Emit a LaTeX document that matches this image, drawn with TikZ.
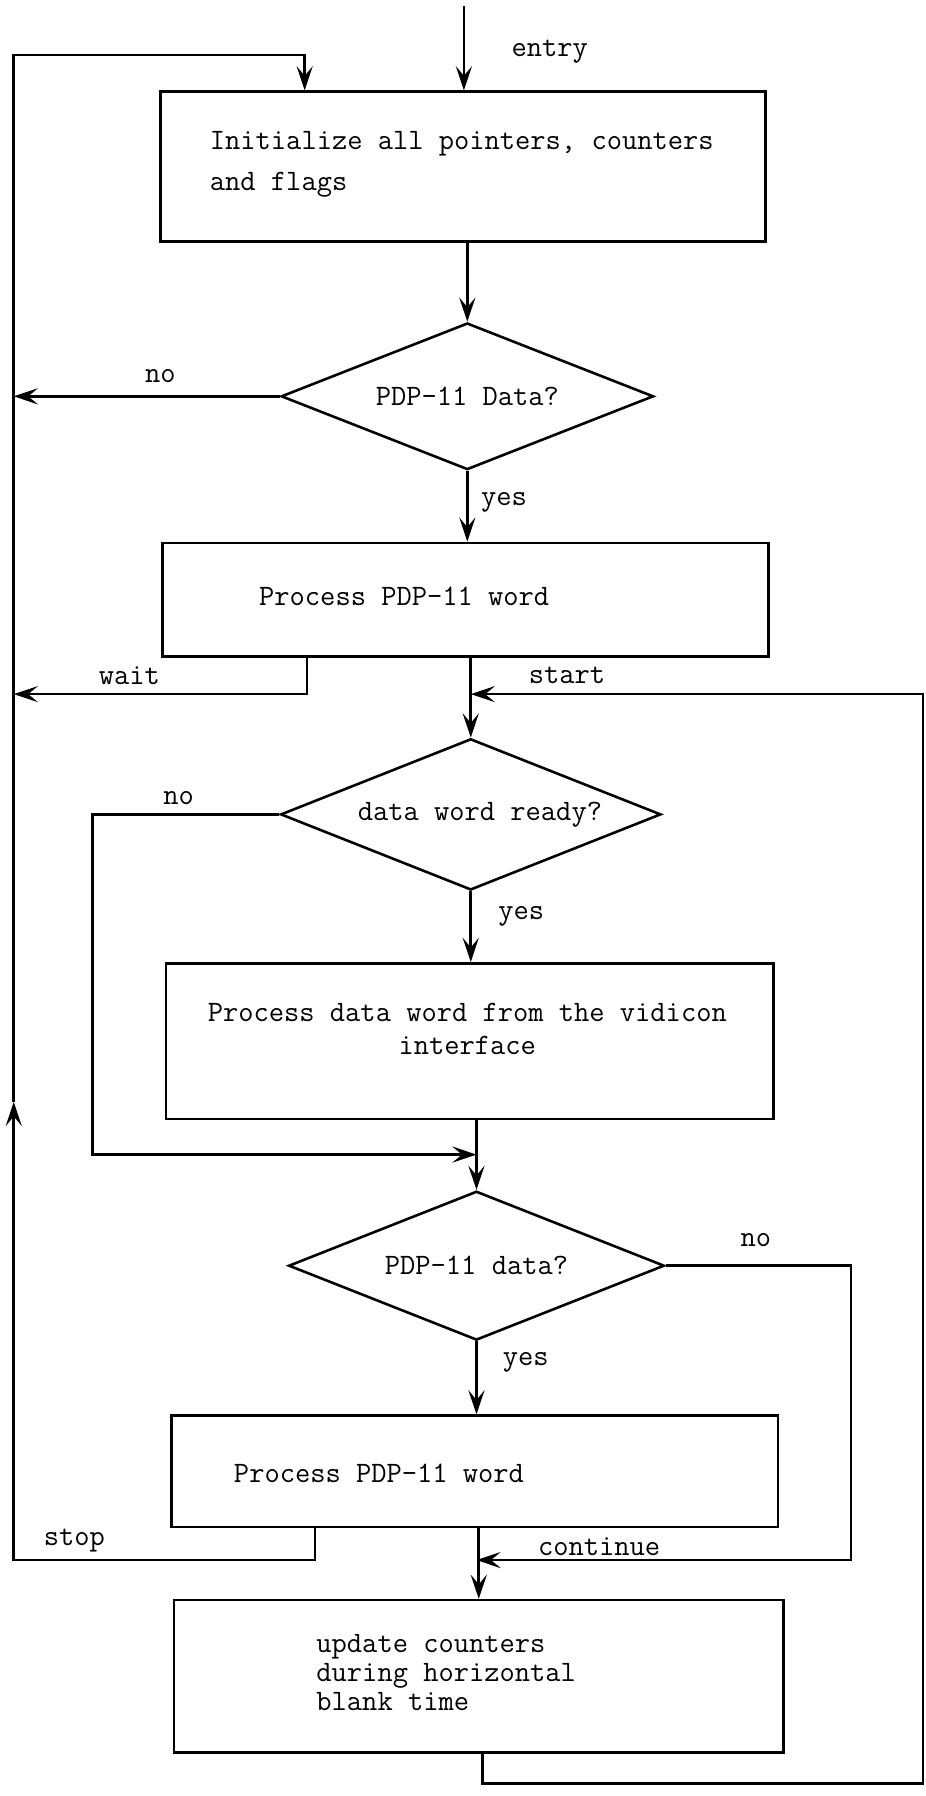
\documentclass[tikz,border=0pt]{standalone}
\usetikzlibrary{shapes.geometric,arrows.meta}

\tikzset{
	procbox/.style={draw,rectangle,line width=1.6pt,inner sep=0pt},
	testbox/.style={draw,diamond,aspect=2.5,line width=1.6pt,inner sep=0pt,font=\fontsize{18.4}{22}\ttfamily},
	boxtext/.style={inner sep=0pt,font=\fontsize{18.4}{#1}\ttfamily},
	boxtext/.default=22,
	flowline/.style={line width=1.6pt},
	flowarrow/.style={flowline,-{Stealth[length=15pt,width=10pt,inset=6pt]}},
}

\begin{document}
\begin{tikzpicture}[x=0.025cm,y=-0.025cm]
	\useasboundingbox (0,0) rectangle (808,1568); % Keeps the page size...

		% boxes and tests
		\node[procbox,minimum width=13.2cm,minimum height=3.275cm] (init) at (404,145.5) {};
		\node[testbox,minimum width=8.125cm,minimum height=3.2cm] (pdpA) at (408,346) {PDP-11 Data?};
		\node[procbox,minimum width=13.225cm,minimum height=2.475cm] (wordA) at (406.5,523.5) {};
		\node[testbox,minimum width=8.3cm,minimum height=3.3cm] (ready) at (411,711) {\hspace{0.4cm}data word ready?};
		\node[procbox,minimum width=13.25cm,minimum height=3.4cm] (vidicon) at (410,909) {};
		\node[testbox,minimum width=8.2cm,minimum height=3.25cm] (pdpB) at (416,1105) {PDP-11 data?};
		\node[procbox,minimum width=13.225cm,minimum height=2.425cm] (wordB) at (414.5,1284.5) {};
		\node[procbox,minimum width=13.3cm,minimum height=3.325cm] (update) at (418,1463.5) {};

		% box texts
		\node[boxtext=25,anchor=west,align=left] (initTxt) at (183,143.5) {Initialize all pointers, counters\\and flags};
		\node[boxtext,anchor=west] (wordATxt) at (226,521) {Process PDP-11 word};
		\node[boxtext=20.6,align=center] (vidiconTxt) at (408,898) {Process data word from the vidicon\\interface};
		\node[boxtext,anchor=west] (wordBTxt) at (204,1286) {Process PDP-11 word};
		\node[boxtext=18,anchor=west,align=left] (updateTxt) at (276,1460) {update counters\\during horizontal\\blank time};

		% free ends of the lines
		\coordinate (entry)   at (405,5);
		\coordinate (loopTop) at (12,48);
		\coordinate (loopIn)  at (266,48);
		\coordinate (upArr)   at (12,962);
		\coordinate (wait)    at (268,606);
		\coordinate (backR)   at (806,606);
		\coordinate (skip)    at (81,1008);
		\coordinate (noR)     at (743,1362);
		\coordinate (stop)    at (275,1362);
		\coordinate (back)    at (421,1557);

		% main flow
		\draw[flowarrow] (entry) -- (entry |- init.north);% entry
		\draw[flowarrow] (init.south -| pdpA.north) -- (pdpA.north);
		\draw[flowarrow] (pdpA.south) -- (pdpA.south |- wordA.north);
		\draw[flowarrow] (wordA.south -| ready.north) -- (ready.north);
		\draw[flowarrow] (ready.south) -- (ready.south |- vidicon.north);
		\draw[flowarrow] (vidicon.south -| pdpB.north) -- (pdpB.north);
		\draw[flowarrow] (pdpB.south) -- (pdpB.south |- wordB.north);
		\draw[flowarrow] (wordB.south -| update.north) -- (update.north);

		% branches
		\draw[flowarrow] (pdpA.west) -- (pdpA.west -| loopTop);
		\draw[flowarrow] (wait |- wordA.south) -- (wait) -- (wait -| loopTop);
		\draw[flowarrow] (ready.west) -| (skip) -- (skip -| pdpB.north);
		\draw[flowarrow] (pdpB.east) -| (noR) -- (noR -| pdpB.south);

		% loops back
		\draw[flowarrow] (stop |- wordB.south) -- (stop) -- (stop -| loopTop) -- (upArr);
		\draw[flowarrow] (upArr) -- (loopTop) -- (loopIn) -- (loopIn |- init.north);
		\draw[flowarrow] (back |- update.south) -- (back) -- (back -| backR) -- (backR) -- (backR -| ready.north);

		% line labels
		\node[boxtext] (entryLbl)  at (480,45)    {entry};
		\node[boxtext] (noA)       at (140,328)   {no};
		\node[boxtext] (yesA)      at (440,439)   {yes};
		\node[boxtext] (waitLbl)   at (113,590)   {wait};
		\node[boxtext] (startLbl)  at (495,590)   {start};
		\node[boxtext] (noB)       at (156,697)   {no};
		\node[boxtext] (yesB)      at (455,800)   {yes};
		\node[boxtext] (noC)       at (660,1083)  {no};
		\node[boxtext] (yesC)      at (459,1189)  {yes};
		\node[boxtext] (stopLbl)   at (65,1345)   {stop};
		\node[boxtext] (contLbl)   at (523,1350)  {continue};
\end{tikzpicture}
\end{document}
